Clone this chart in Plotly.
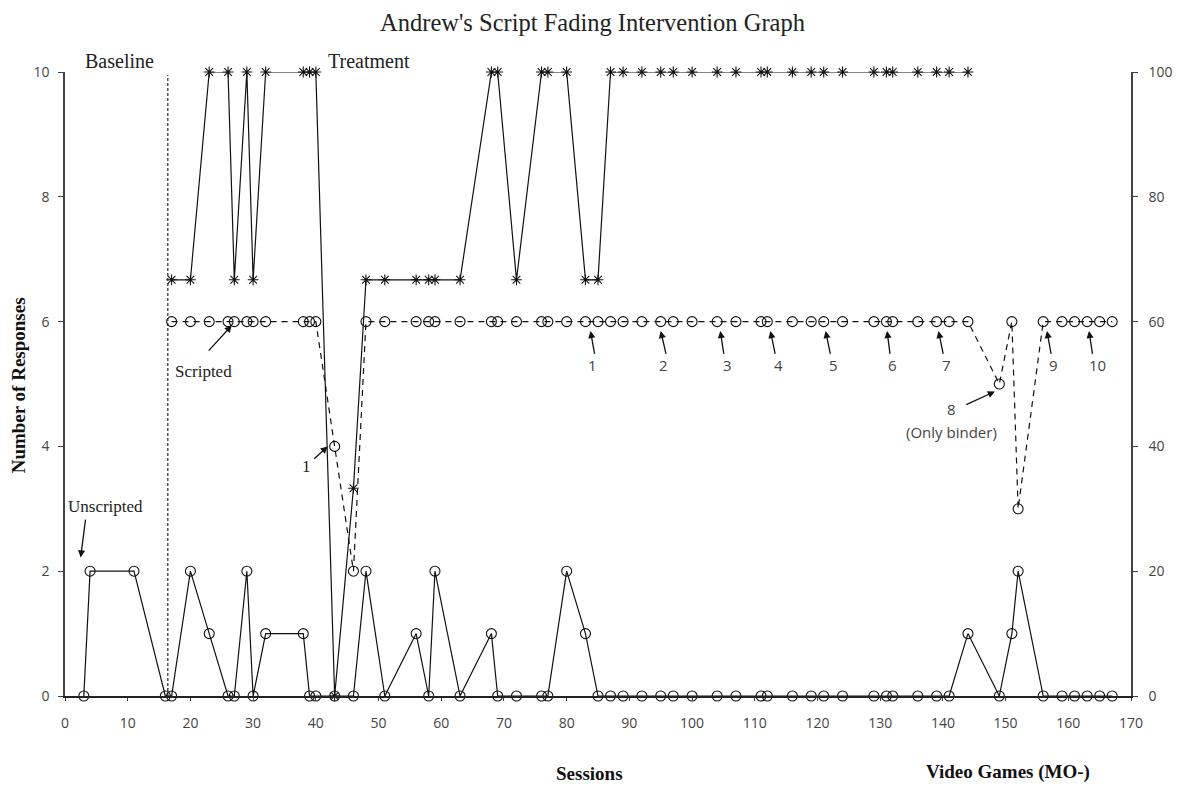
import plotly.graph_objects as go

# ---- data -------------------------------------------------------------
baseline_sessions = [3, 4, 11, 16]
baseline_unscripted = [0, 2, 2, 0]

treatment_sessions = [17, 20, 23, 26, 27, 29, 30, 32, 38, 39,
                      40, 43, 46, 48, 51, 56, 58, 59, 63, 68,
                      69, 72, 76, 77, 80, 83, 85, 87, 89, 92,
                      95, 97, 100, 104, 107, 111, 112, 116, 119, 121,
                      124, 129, 131, 132, 136, 139, 141, 144, 149, 151,
                      152, 156, 159, 161, 163, 165, 167]

treatment_unscripted = [0, 2, 1, 0, 0, 2, 0, 1, 1, 0,
                        0, 0, 0, 2, 0, 1, 0, 2, 0, 1,
                        0, 0, 0, 0, 2, 1, 0, 0, 0, 0,
                        0, 0, 0, 0, 0, 0, 0, 0, 0, 0,
                        0, 0, 0, 0, 0, 0, 0, 1, 0, 1,
                        2, 0, 0, 0, 0, 0, 0]

scripted = [6, 6, 6, 6, 6, 6, 6, 6, 6, 6,
            6, 4, 2, 6, 6, 6, 6, 6, 6, 6,
            6, 6, 6, 6, 6, 6, 6, 6, 6, 6,
            6, 6, 6, 6, 6, 6, 6, 6, 6, 6,
            6, 6, 6, 6, 6, 6, 6, 6, 5, 6,
            3, 6, 6, 6, 6, 6, 6]

# percent series (right axis), sessions 17 .. 144
percent_sessions = treatment_sessions[:48]
percent = [66.7, 66.7, 100, 100, 66.7, 100, 66.7, 100, 100, 100,
           100, 0, 33.3, 66.7, 66.7, 66.7, 66.7, 66.7, 66.7, 100,
           100, 66.7, 100, 100, 100, 66.7, 66.7, 100, 100, 100,
           100, 100, 100, 100, 100, 100, 100, 100, 100, 100,
           100, 100, 100, 100, 100, 100, 100, 100]

x_ticks = list(range(0, 171, 10))
left_ticks = [0, 2, 4, 6, 8, 10]
right_ticks = [0, 20, 40, 60, 80, 100]

phase_change = 16.4

# numbered fading steps: (label, arrow tip x, arrow tail x, text x)
steps = [("1", 83.8, 84.5, 84.1), ("2", 95.0, 95.9, 95.4),
         ("3", 104.5, 105.1, 105.6), ("4", 112.5, 113.3, 113.8),
         ("5", 121.3, 122.1, 122.5), ("6", 131.1, 131.6, 131.9),
         ("7", 139.3, 140.1, 140.5), ("9", 156.6, 157.3, 157.6),
         ("10", 163.3, 163.9, 164.7)]

SERIF = "Liberation Serif, Times New Roman, serif"
SANS = "Open Sans, Arial, sans-serif"
INK = "#111111"
GREY = "#444444"

unscripted_x = baseline_sessions + treatment_sessions
unscripted_y = baseline_unscripted + treatment_unscripted

fig = go.Figure()

fig.add_trace(go.Scatter(
    x=percent_sessions, y=percent, yaxis="y2", mode="lines+markers",
    line=dict(color=INK, width=1.2),
    marker=dict(symbol="asterisk-open", size=9, line=dict(color=INK, width=1.1)),
    cliponaxis=False, showlegend=False))

fig.add_trace(go.Scatter(
    x=treatment_sessions, y=scripted, mode="lines+markers",
    line=dict(color=INK, width=1.2, dash="6px,5px"),
    marker=dict(symbol="circle-open", size=10, line=dict(color=INK, width=1.1)),
    cliponaxis=False, showlegend=False))

fig.add_trace(go.Scatter(
    x=unscripted_x, y=unscripted_y, mode="lines+markers",
    line=dict(color=INK, width=1.2),
    marker=dict(symbol="circle-open", size=10, line=dict(color=INK, width=1.1)),
    cliponaxis=False, showlegend=False))

# phase change line
fig.add_shape(type="line", xref="x", yref="y", x0=phase_change, x1=phase_change,
              y0=0, y1=9.95, line=dict(color=INK, width=1.1, dash="3px,2px"))

ann = []


def text(x, y, s, font=SERIF, size=14, color="#222", xref="x", yref="y", **kw):
    ann.append(dict(x=x, y=y, xref=xref, yref=yref, text=s, showarrow=False,
                    xanchor="center", yanchor="middle",
                    font=dict(family=font, size=size, color=color), **kw))


def arrow(x, y, ax, ay):
    ann.append(dict(x=x, y=y, ax=ax, ay=ay, xref="x", yref="y", axref="x", ayref="y",
                    text="", showarrow=True, arrowhead=2, arrowsize=1.1,
                    arrowwidth=1.3, arrowcolor=INK, standoff=0, startstandoff=0))


# phase labels above the plotting area
text(0.0515, 1.017, "Baseline", size=20, xref="paper", yref="paper")
text(0.2856, 1.018, "Treatment", size=20, xref="paper", yref="paper")

text(22.1, 5.2, "Scripted", size=17)
arrow(26.6, 5.94, 22.7, 5.51)

text(6.45, 3.04, "Unscripted", size=17)
arrow(2.5, 2.22, 3.3, 2.85)

text(38.5, 3.67, "1", size=17)
arrow(41.9, 4.0, 39.5, 3.78)

for label, tip, tail, tx in steps:
    arrow(tip, 5.85, tail, 5.46)
    text(tx, 5.3, label, font=SANS, size=15, color=GREY)

arrow(148.3, 4.88, 143.5, 4.66)
text(141.4, 4.6, "8", font=SANS, size=15, color=GREY)
text(141.4, 4.23, "(Only binder)", font=SANS, size=15, color=GREY)

# axis titles
text(0.4916, -0.124, "<b>Sessions</b>", size=19, color="#111", xref="paper", yref="paper")
text(0.885, -0.121, "<b>Video Games (MO-)</b>", size=19, color="#111",
     xref="paper", yref="paper")
text(-0.044, 0.498, "<b>Number of Responses</b>", size=19, color="#111",
     xref="paper", yref="paper", textangle=-90)

tickfont = dict(family=SANS, size=14, color=GREY)

fig.update_layout(
    width=1185, height=789,
    margin=dict(l=65, r=52, t=72, b=93),
    paper_bgcolor="white", plot_bgcolor="white",
    title=dict(text="Andrew's Script Fading Intervention Graph",
               x=0.5, xanchor="center", y=0.972, yanchor="middle",
               font=dict(family=SERIF, size=24.5, color="#222")),
    xaxis=dict(range=[0, 170], tickvals=x_ticks, ticktext=[str(v) for v in x_ticks],
               showgrid=False, zeroline=False, showline=True, linecolor="#222",
               linewidth=1.6, ticks="outside", ticklen=3, tickcolor=GREY,
               ticklabelstandoff=10, tickfont=tickfont),
    yaxis=dict(range=[0, 10], tickvals=left_ticks, showgrid=False, zeroline=False,
               showline=True, linecolor=GREY, linewidth=1.6, ticks="outside",
               ticklen=5, tickcolor=GREY, ticklabelstandoff=6, tickfont=tickfont),
    yaxis2=dict(range=[0, 100], tickvals=right_ticks, overlaying="y", side="right",
                showgrid=False, zeroline=False, showline=True, linecolor=GREY,
                linewidth=1.6, ticks="outside", ticklen=5, tickcolor=GREY,
                ticklabelstandoff=8, tickfont=tickfont),
    annotations=ann,
    showlegend=False,
)

fig.write_html("out.html")
